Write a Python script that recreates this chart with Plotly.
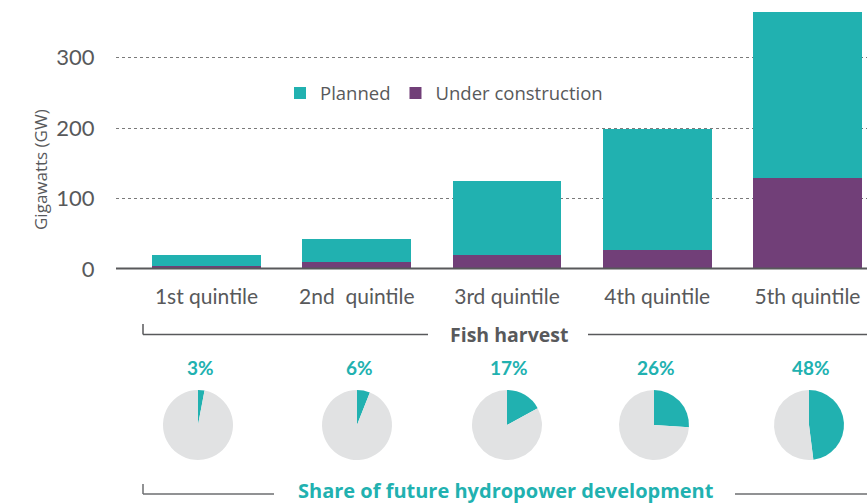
import plotly.graph_objects as go

# ---- data ----
categories = ["1st quintile", "2nd  quintile", "3rd quintile", "4th quintile", "5th quintile"]
under_construction = [5, 10, 20, 28, 129]
planned = [15, 33, 105, 171, 235]
share_pct = [3, 6, 17, 26, 48]
y_ticks = [0, 100, 200, 300]

# ---- style ----
W, H = 867, 504
TEAL = "#21b1b0"
PURPLE = "#713f78"
PIE_GRAY = "#e1e2e3"
TXT = "#58595b"
FONT = "Lato"
FONT2 = "Open Sans"

def fx(px):
    return px / W

def fy(py):
    return 1 - py / H

zero_px = 269.4
px_per_unit = 0.707
y_max = zero_px / px_per_unit

fig = go.Figure()
fig.add_trace(go.Bar(x=list(range(len(categories))), y=under_construction, name="Under construction",
                     marker=dict(color=PURPLE, line=dict(width=0)), hoverinfo="skip"))
fig.add_trace(go.Bar(x=list(range(len(categories))), y=planned, name="Planned",
                     marker=dict(color=TEAL, line=dict(width=0)), hoverinfo="skip"))

# pies
pie_cx = [198, 357, 507, 654, 809]
pie_cy = 425
r = 35
for i, p in enumerate(share_pct):
    cx = pie_cx[i]
    fig.add_trace(go.Pie(values=[p, 100 - p], sort=False, direction="clockwise", rotation=0,
                         marker=dict(colors=[TEAL, PIE_GRAY], line=dict(width=0)),
                         textinfo="none", hoverinfo="skip", showlegend=False,
                         domain=dict(x=[fx(cx - r), fx(cx + r)], y=[fy(pie_cy + r), fy(pie_cy - r)])))
    fig.add_annotation(x=fx(cx + 2), y=fy(367), xref="paper", yref="paper", text=f"<b>{p}%</b>",
                       showarrow=False, font=dict(family=FONT, size=19, color=TEAL),
                       xanchor="center", yanchor="middle")

x_left = (116 - 206.5) / 150.25
x_right = (W - 206.5) / 150.25

fig.update_layout(
    width=W, height=H, margin=dict(l=0, r=0, t=0, b=0, autoexpand=False),
    paper_bgcolor="white", plot_bgcolor="white",
    barmode="stack", bargap=0.275,
    font=dict(family=FONT, color=TXT),
    showlegend=True,
    legend=dict(orientation="h", traceorder="reversed", x=fx(280), y=fy(93.5),
                xanchor="left", yanchor="middle", bgcolor="rgba(0,0,0,0)",
                font=dict(family=FONT2, size=18.5, color=TXT), itemclick=False, itemdoubleclick=False),
    xaxis=dict(domain=[fx(116), 1], range=[x_left, x_right], tickmode="array",
               tickvals=list(range(len(categories))), ticktext=categories,
               showgrid=False, zeroline=False, showline=False, automargin=False,
               ticks="outside", ticklen=8, tickcolor="rgba(0,0,0,0)",
               tickfont=dict(family=FONT, size=21, color=TXT)),
    yaxis=dict(domain=[fy(zero_px), 1], range=[0, y_max], tickmode="array",
               tickvals=y_ticks, showgrid=True, gridcolor="#7a7a7a", griddash="dot", gridwidth=1,
               zeroline=False, showline=False, automargin=False,
               ticks="outside", ticklen=16, tickcolor="rgba(0,0,0,0)",
               tickfont=dict(family=FONT, size=22, color=TXT)),
)

# baseline
fig.add_shape(type="line", xref="paper", yref="y", x0=fx(116), x1=1, y0=0, y1=0,
              line=dict(color=TXT, width=4), layer="above")

# y title
fig.add_annotation(x=fx(40), y=fy(170), xref="paper", yref="paper", text="Gigawatts (GW)",
                   textangle=-90, showarrow=False, font=dict(family=FONT2, size=17, color=TXT),
                   xanchor="center", yanchor="middle")

# Fish harvest bracket
line_style = dict(color=TXT, width=1.5)
fig.add_shape(type="line", xref="paper", yref="paper", x0=fx(143), x1=fx(143), y0=fy(324), y1=fy(334.5), line=line_style)
fig.add_shape(type="line", xref="paper", yref="paper", x0=fx(143), x1=fx(428), y0=fy(334.5), y1=fy(334.5), line=line_style)
fig.add_shape(type="line", xref="paper", yref="paper", x0=fx(588), x1=1, y0=fy(334.5), y1=fy(334.5), line=line_style)
fig.add_annotation(x=fx(509), y=fy(334), xref="paper", yref="paper", text="<b>Fish harvest</b>",
                   showarrow=False, font=dict(family=FONT2, size=19.5, color=TXT),
                   xanchor="center", yanchor="middle")

# Share bracket
line_style2 = dict(color="#6d6e70", width=1.5)
fig.add_shape(type="line", xref="paper", yref="paper", x0=fx(143), x1=fx(143), y0=fy(484), y1=fy(494), line=line_style2)
fig.add_shape(type="line", xref="paper", yref="paper", x0=fx(143), x1=fx(274), y0=fy(494), y1=fy(494), line=line_style2)
fig.add_shape(type="line", xref="paper", yref="paper", x0=fx(735), x1=1, y0=fy(494), y1=fy(494), line=line_style2)
fig.add_annotation(x=fx(506), y=fy(490.5), xref="paper", yref="paper",
                   text="<b>Share of future hydropower development</b>",
                   showarrow=False, font=dict(family=FONT2, size=20, color=TEAL),
                   xanchor="center", yanchor="middle")

fig.write_html("out.html", config={"displayModeBar": False},
               post_script="document.body.style.margin='0';")
